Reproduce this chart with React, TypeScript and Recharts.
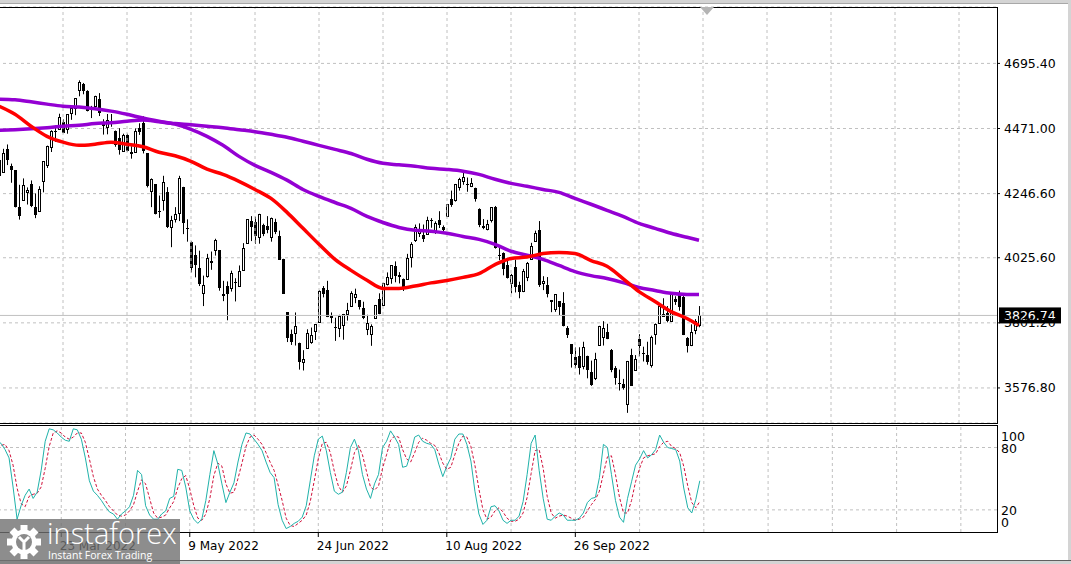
import React from 'react';
import { ComposedChart, Bar, Line, XAxis, YAxis, CartesianGrid, ReferenceLine } from 'recharts';

// trading days shown on the chart (US500, daily)
const tradingDays: [string, number[]][] = [
  ['Mar', [1, 2, 3, 4, 7, 8, 9, 10, 11, 14, 15, 16, 17, 18, 21, 22, 23, 24, 25, 28, 29, 30, 31]],
  ['Apr', [1, 4, 5, 6, 7, 8, 11, 12, 13, 14, 18, 19, 20, 21, 22, 25, 26, 27, 28, 29]],
  ['May', [2, 3, 4, 5, 6, 9, 10, 11, 12, 13, 16, 17, 18, 19, 20, 23, 24, 25, 26, 27, 31]],
  ['Jun', [1, 2, 3, 6, 7, 8, 9, 10, 13, 14, 15, 16, 17, 21, 22, 23, 24, 27, 28, 29, 30]],
  ['Jul', [1, 5, 6, 7, 8, 11, 12, 13, 14, 15, 18, 19, 20, 21, 22, 25, 26, 27, 28, 29]],
  ['Aug', [1, 2, 3, 4, 5, 8, 9, 10, 11, 12, 15, 16, 17, 18, 19, 22, 23, 24, 25, 26, 29, 30, 31]],
  ['Sep', [1, 2, 6, 7, 8, 9, 12, 13, 14, 15, 16, 19, 20, 21, 22, 23, 26, 27, 28, 29, 30]],
  ['Oct', [3, 4, 5, 6, 7, 10, 11, 12, 13, 14, 17, 18, 19, 20, 21, 24, 25, 26, 27, 28, 31]],
  ['Nov', [1, 2, 3, 4, 7, 8]],
];

// open, high, low, close
const ohlc: number[][] = [
  [4363, 4375, 4279, 4306], [4322, 4401, 4320, 4387], [4401, 4416, 4345, 4364], [4343, 4350, 4284, 4329],
  [4327, 4327, 4199, 4201], [4202, 4277, 4157, 4171], [4223, 4299, 4223, 4278], [4252, 4268, 4209, 4260],
  [4279, 4292, 4200, 4204], [4202, 4247, 4162, 4173], [4188, 4272, 4187, 4262], [4289, 4358, 4251, 4358],
  [4345, 4412, 4335, 4412], [4407, 4465, 4390, 4463], [4462, 4481, 4425, 4461], [4470, 4522, 4469, 4512],
  [4493, 4502, 4455, 4456], [4470, 4521, 4453, 4520], [4523, 4546, 4501, 4543], [4541, 4575, 4517, 4575],
  [4603, 4637, 4582, 4632], [4624, 4628, 4589, 4602], [4599, 4603, 4530, 4530], [4540, 4549, 4507, 4546],
  [4547, 4584, 4535, 4583], [4573, 4593, 4514, 4525], [4495, 4503, 4450, 4481], [4475, 4521, 4451, 4500],
  [4495, 4521, 4477, 4488], [4462, 4464, 4408, 4413], [4437, 4472, 4381, 4397], [4394, 4453, 4392, 4447],
  [4449, 4453, 4392, 4392], [4385, 4410, 4367, 4391], [4390, 4471, 4389, 4463], [4473, 4489, 4449, 4459],
  [4490, 4513, 4385, 4393], [4385, 4386, 4268, 4272], [4255, 4299, 4200, 4296], [4279, 4279, 4175, 4175],
  [4187, 4240, 4163, 4183], [4223, 4308, 4188, 4288], [4253, 4269, 4128, 4132], [4131, 4170, 4062, 4155],
  [4159, 4200, 4147, 4175], [4181, 4308, 4152, 4300], [4270, 4270, 4107, 4147], [4129, 4158, 4081, 4123],
  [4081, 4082, 3975, 3991], [4035, 4068, 3958, 4001], [3990, 4050, 3928, 3936], [3904, 3964, 3859, 3930],
  [3963, 4039, 3957, 4024], [4013, 4047, 3984, 4008], [4052, 4091, 4033, 4088], [4052, 4052, 3912, 3923],
  [3900, 3946, 3876, 3901], [3928, 3944, 3810, 3901], [3920, 3981, 3909, 3974], [3942, 3955, 3875, 3941],
  [3929, 3999, 3926, 3979], [3984, 4076, 3984, 4058], [4077, 4158, 4077, 4158], [4151, 4169, 4083, 4132],
  [4149, 4167, 4074, 4101], [4096, 4177, 4074, 4176], [4138, 4143, 4100, 4109], [4135, 4169, 4110, 4121],
  [4097, 4164, 4081, 4161], [4148, 4160, 4107, 4116], [4102, 4119, 4018, 4018], [4020, 4022, 3901, 3901],
  [3838, 3838, 3735, 3750], [3763, 3778, 3725, 3735], [3765, 3837, 3723, 3790], [3733, 3733, 3640, 3667],
  [3666, 3707, 3637, 3675], [3715, 3779, 3715, 3765], [3734, 3785, 3729, 3760], [3774, 3796, 3742, 3796],
  [3805, 3914, 3805, 3912], [3920, 3928, 3889, 3900], [3913, 3946, 3821, 3821], [3826, 3837, 3800, 3819],
  [3786, 3819, 3739, 3785], [3782, 3829, 3752, 3825], [3793, 3832, 3743, 3831], [3831, 3870, 3809, 3845],
  [3858, 3910, 3858, 3903], [3889, 3919, 3869, 3899], [3880, 3880, 3847, 3855], [3851, 3874, 3814, 3819],
  [3779, 3829, 3759, 3801], [3764, 3796, 3722, 3790], [3818, 3863, 3817, 3863], [3883, 3903, 3831, 3831],
  [3861, 3939, 3860, 3937], [3935, 3975, 3930, 3960], [3955, 3999, 3936, 3999], [3998, 4013, 3941, 3962],
  [3965, 3976, 3937, 3967], [3953, 3954, 3911, 3921], [3951, 4039, 3951, 4024], [4027, 4079, 3992, 4072],
  [4088, 4140, 4080, 4130], [4112, 4144, 4097, 4119], [4104, 4140, 4080, 4091], [4107, 4167, 4107, 4155],
  [4154, 4162, 4129, 4152], [4115, 4151, 4108, 4145], [4156, 4186, 4128, 4140], [4133, 4137, 4112, 4122],
  [4171, 4211, 4169, 4210], [4227, 4257, 4201, 4207], [4225, 4280, 4219, 4280], [4269, 4301, 4257, 4297],
  [4291, 4326, 4277, 4305], [4280, 4302, 4253, 4275], [4274, 4300, 4269, 4284], [4267, 4267, 4219, 4228],
  [4195, 4196, 4131, 4138], [4134, 4159, 4124, 4128], [4126, 4156, 4120, 4141], [4154, 4200, 4147, 4199],
  [4199, 4204, 4057, 4058], [4034, 4062, 4017, 4031], [4042, 4044, 3965, 3986], [4000, 4016, 3954, 3955],
  [3937, 3970, 3903, 3967], [3994, 4019, 3906, 3924], [3930, 3943, 3886, 3908], [3910, 3987, 3907, 3980],
  [3959, 4011, 3945, 4006], [4022, 4077, 4022, 4067], [4084, 4119, 4083, 4110], [4120, 4152, 3925, 3932],
  [3940, 3962, 3914, 3946], [3932, 3959, 3889, 3901], [3880, 3880, 3838, 3873], [3849, 3900, 3839, 3900],
  [3875, 3876, 3827, 3856], [3871, 3907, 3789, 3790], [3782, 3790, 3749, 3758], [3727, 3727, 3647, 3693],
  [3682, 3716, 3645, 3655], [3686, 3717, 3623, 3647], [3651, 3736, 3641, 3719], [3688, 3688, 3610, 3640],
  [3633, 3671, 3584, 3586], [3610, 3698, 3604, 3678], [3726, 3791, 3726, 3791], [3753, 3807, 3723, 3783],
  [3771, 3798, 3745, 3745], [3707, 3711, 3631, 3640], [3645, 3652, 3588, 3612], [3595, 3640, 3568, 3589],
  [3590, 3608, 3571, 3577], [3520, 3670, 3491, 3670], [3690, 3712, 3584, 3583], [3638, 3690, 3638, 3677],
  [3746, 3762, 3686, 3720], [3696, 3719, 3668, 3695], [3689, 3736, 3657, 3666], [3657, 3757, 3647, 3752],
  [3763, 3799, 3726, 3797], [3799, 3862, 3799, 3859], [3825, 3886, 3824, 3831], [3835, 3859, 3803, 3807],
  [3808, 3905, 3808, 3901], [3882, 3893, 3863, 3872], [3901, 3912, 3843, 3856], [3890, 3894, 3759, 3760],
  [3750, 3752, 3699, 3720], [3725, 3796, 3721, 3771], [3775, 3814, 3762, 3807], [3795, 3859, 3786, 3826.74],
];

// moving averages, read every 4 bars
const maIndex = [0, 4, 8, 12, 16, 20, 24, 28, 32, 36, 40, 44, 48, 52, 56, 60, 64, 68, 72, 76, 80, 84, 88,
  92, 96, 100, 104, 108, 112, 116, 120, 124, 128, 132, 136, 140, 144, 148, 152, 156, 160, 164, 168, 172, 175];
const ma50 = [4548, 4520, 4479, 4444, 4424, 4413, 4417, 4424, 4417, 4408, 4389, 4377, 4358, 4331, 4313, 4289,
  4261, 4230, 4182, 4127, 4072, 4020, 3982, 3948, 3920, 3920, 3928, 3939, 3947, 3958, 3971, 4002, 4023, 4028,
  4040, 4044, 4040, 4016, 3996, 3954, 3909, 3875, 3840, 3816, 3792];
const ma100 = [4572, 4570, 4563, 4555, 4548, 4545, 4539, 4531, 4520, 4507, 4496, 4486, 4468, 4444, 4413, 4375,
  4344, 4320, 4293, 4261, 4237, 4216, 4196, 4168, 4147, 4130, 4120, 4117, 4110, 4099, 4089, 4072, 4048, 4034,
  4020, 3999, 3978, 3964, 3954, 3940, 3923, 3913, 3903, 3899, 3899];
const ma200 = [4465, 4467, 4470, 4474, 4479, 4482, 4488, 4491, 4496, 4500, 4494, 4488, 4484, 4479, 4474, 4467,
  4460, 4451, 4441, 4427, 4413, 4399, 4385, 4365, 4351, 4346, 4341, 4334, 4330, 4324, 4313, 4296, 4282, 4272,
  4261, 4251, 4230, 4210, 4189, 4168, 4144, 4127, 4110, 4096, 4086];

// stochastic oscillator
const stochMain = [86, 84, 78, 70, 42, 11, 24, 34, 40, 31, 37, 58, 86, 98, 97, 94, 90, 87, 86, 98, 97, 88, 70, 48,
  38, 34, 29, 23, 18, 16, 11, 16, 19, 23, 34, 58, 54, 24, 15, 11, 11, 16, 19, 31, 33, 59, 58, 42, 19, 11, 7, 11,
  29, 54, 77, 64, 45, 27, 37, 46, 66, 83, 94, 93, 88, 83, 77, 66, 56, 51, 25, 10, 2, 4, 7, 9, 13, 24, 48, 72, 88,
  91, 77, 56, 38, 35, 37, 56, 80, 88, 77, 54, 40, 31, 45, 54, 80, 86, 96, 90, 83, 61, 62, 74, 90, 92, 86, 84, 83,
  78, 64, 52, 62, 70, 88, 93, 93, 83, 67, 38, 16, 6, 10, 23, 24, 19, 10, 7, 10, 10, 14, 28, 54, 84, 92, 58, 31,
  11, 10, 14, 17, 15, 10, 10, 10, 12, 17, 27, 31, 32, 51, 83, 80, 54, 29, 13, 8, 31, 47, 63, 69, 77, 70, 73, 78,
  92, 85, 80, 79, 78, 67, 41, 22, 17, 30, 48];
const stochSignal = [80, 82, 83, 77, 63, 41, 26, 23, 33, 35, 36, 42, 60, 81, 94, 96, 94, 90, 88, 90, 94, 94, 85,
  69, 52, 40, 34, 29, 23, 19, 15, 14, 15, 19, 25, 38, 49, 45, 31, 17, 12, 13, 15, 22, 28, 41, 50, 53, 40, 24, 12,
  10, 16, 31, 53, 65, 62, 45, 36, 37, 50, 65, 81, 90, 92, 88, 83, 75, 66, 58, 44, 29, 12, 5, 4, 7, 10, 15, 28,
  48, 69, 84, 85, 75, 57, 43, 37, 43, 58, 75, 82, 73, 57, 42, 39, 43, 60, 73, 87, 91, 90, 78, 69, 66, 75, 85, 89,
  87, 84, 82, 75, 65, 59, 61, 73, 84, 91, 90, 81, 63, 40, 20, 11, 13, 19, 22, 18, 12, 9, 9, 11, 17, 32, 55, 77,
  78, 60, 33, 17, 12, 14, 15, 14, 12, 10, 11, 13, 19, 25, 30, 38, 55, 71, 72, 54, 32, 17, 17, 29, 47, 60, 70, 72,
  73, 74, 81, 85, 86, 81, 79, 75, 62, 43, 27, 22, 28];

const priceTicks = [3576.8, 3801.2, 4025.6, 4246.6, 4471.0, 4695.4];
const stochTicks = [0, 20, 80, 100];
const labelTicks = [16, 48, 80, 112, 144];
const gridTicks = [16, 32, 48, 64, 80, 96, 112, 128, 144, 160, 176, 192, 208, 224, 240];
const lastPrice = 3826.74;
const SLOTS = 250;

const dates = tradingDays.flatMap(([m, ds]) => ds.map((d) => `${d} ${m} 2022`));

const rows = Array.from({ length: SLOTS }, (_, i) => {
  const bar = ohlc[i];
  const k = maIndex.indexOf(i);
  return {
    idx: i,
    date: dates[i] || '',
    o: bar ? bar[0] : null,
    h: bar ? bar[1] : null,
    l: bar ? bar[2] : null,
    c: bar ? bar[3] : null,
    range: bar ? [bar[2], bar[1]] : null,
    ma50: k >= 0 ? ma50[k] : null,
    ma100: k >= 0 ? ma100[k] : null,
    ma200: k >= 0 ? ma200[k] : null,
    k: i < stochMain.length ? stochMain[i] : null,
    d: i < stochSignal.length ? stochSignal[i] : null,
  };
});

const FONT = '"DejaVu Sans", Tahoma, sans-serif';
const GRID = '#c0c0c0';

const Candle = (props: any) => {
  const { x, y, width, height, payload } = props;
  if (payload.o == null) return null;
  const { o, h, l, c } = payload;
  const span = h - l || 1;
  const py = (v: number) => y + ((h - v) / span) * height;
  const cx = Math.floor(x + width / 2) + 0.5;
  const top = Math.round(py(Math.max(o, c)));
  const bot = Math.round(py(Math.min(o, c)));
  const up = c >= o;
  return (
    <g>
      <line x1={cx} x2={cx} y1={py(h)} y2={py(l)} stroke='#000' strokeWidth={1} />
      {up ? (
        <rect x={cx - 1} y={top + 0.5} width={2} height={Math.max(bot - top, 1)} fill='#fff' stroke='#000' strokeWidth={1} />
      ) : (
        <rect x={cx - 1.5} y={top} width={3} height={Math.max(bot - top, 1)} fill='#000' />
      )}
    </g>
  );
};

const PriceBox = (props: any) => {
  const { viewBox } = props;
  const bx = viewBox.x + viewBox.width + 2;
  return (
    <g>
      <rect x={bx} y={viewBox.y - 8} width={62} height={16} fill='#000' />
      <text x={bx + 5} y={viewBox.y} dy='0.36em' fill='#fff' fontSize={12.5} fontFamily={FONT}>
        {lastPrice.toFixed(2)}
      </text>
    </g>
  );
};

const DateTick = (props: any) => {
  const { x, y, payload } = props;
  return (
    <text x={x - 1.5} y={y} dy={10.5} textAnchor='start' fill='#000' fontSize={12} fontFamily={FONT}>
      {dates[payload.value]}
    </text>
  );
};

// MT4 keeps the 100 and 0 labels inside the window
const StochTick = (props: any) => {
  const { x, y, payload } = props;
  const shift = payload.value === 100 ? 9.3 : payload.value === 0 ? -8 : 0.8;
  return (
    <text x={x} y={y + shift} dy='0.36em' textAnchor='start' fill='#000' fontSize={12.5} fontFamily={FONT}>
      {payload.value}
    </text>
  );
};

const abs = (l: number, t: number, w: number, h: number, extra: React.CSSProperties = {}): React.CSSProperties => ({
  position: 'absolute', left: l, top: t, width: w, height: h, boxSizing: 'border-box', ...extra,
});

export default function App() {
  return (
    <div style={abs(0, 0, 1071, 564, { background: '#fff', overflow: 'hidden', fontFamily: FONT })}>
      {/* price panel */}
      <div style={{ position: 'absolute', left: -3, top: 0 }}>
        <ComposedChart width={1074} height={423} data={rows} margin={{ top: 7, right: 0, bottom: 0, left: 0 }}
          barCategoryGap={0} barGap={0}>
          <CartesianGrid vertical={false} stroke={GRID} strokeDasharray='3 3' />
          <XAxis dataKey='idx' type='category' hide />
          <YAxis orientation='right' width={74} domain={[3456, 4889.8]} ticks={priceTicks} type='number'
            interval={0} allowDataOverflow axisLine={false} tickSize={3} tickMargin={4} tickLine={{ stroke: '#000' }}
            tickFormatter={(v: number) => v.toFixed(2)}
            tick={{ fontSize: 12.5, fill: '#000', fontFamily: FONT }} />
          {gridTicks.map((t) => (
            <ReferenceLine key={t} x={t} stroke={GRID} strokeDasharray='3 3' />
          ))}
          <ReferenceLine y={lastPrice} stroke='#c0c0c0' label={<PriceBox />} />
          <Bar dataKey='range' shape={<Candle />} isAnimationActive={false} />
          <Line dataKey='ma200' stroke='#9400d3' strokeWidth={3.5} dot={false} connectNulls type='monotone' isAnimationActive={false} />
          <Line dataKey='ma100' stroke='#9400d3' strokeWidth={3.5} dot={false} connectNulls type='monotone' isAnimationActive={false} />
          <Line dataKey='ma50' stroke='#ff0000' strokeWidth={3.5} dot={false} connectNulls type='monotone' isAnimationActive={false} />
        </ComposedChart>
      </div>

      {/* stochastic panel */}
      <div style={{ position: 'absolute', left: -3, top: 426 }}>
        <ComposedChart width={1074} height={134} data={rows} margin={{ top: 0, right: 0, bottom: 0, left: 0 }}>
          <XAxis dataKey='idx' type='category' height={28} ticks={labelTicks} interval={0} axisLine={false}
            tickSize={5} tickMargin={2} tickLine={{ stroke: '#000' }} tick={<DateTick />} />
          <YAxis orientation='right' width={74} domain={[-1.3, 100.7]} ticks={stochTicks} type='number'
            interval={0} allowDataOverflow axisLine={false} tickLine={false} tickSize={0} tickMargin={4}
            tick={<StochTick />} />
          <ReferenceLine y={80} stroke={GRID} strokeDasharray='3 3' />
          <ReferenceLine y={20} stroke={GRID} strokeDasharray='3 3' />
          {gridTicks.map((t) => (
            <ReferenceLine key={t} x={t} stroke={GRID} strokeDasharray='3 3' />
          ))}
          <Line dataKey='d' stroke='#d0103a' strokeWidth={1} strokeDasharray='3 2' dot={false} type='linear' isAnimationActive={false} />
          <Line dataKey='k' stroke='#20b2aa' strokeWidth={1} dot={false} type='linear' isAnimationActive={false} />
        </ComposedChart>
      </div>

      {/* panel borders and window frame */}
      <div style={abs(-1, 7, 999, 417, { border: '1px solid #000', pointerEvents: 'none' })} />
      <div style={abs(-1, 425, 999, 108, { border: '1px solid #000', pointerEvents: 'none' })} />
      <div style={abs(0, 0, 1071, 3, { background: '#d4d4d4' })} />
      <div style={abs(0, 3, 1071, 1, { background: '#a8a8a8' })} />
      <div style={abs(1068, 0, 3, 564, { background: '#d4d4d4' })} />
      <div style={abs(0, 560, 1071, 1, { background: '#606060' })} />
      <div style={abs(0, 561, 1071, 3, { background: '#d4d4d4' })} />

      {/* chart shift marker */}
      <svg style={abs(699, 7, 16, 10)} width={16} height={10}>
        <polygon points='1,0 15,0 8,8' fill='#b4b4b4' />
      </svg>

      {/* watermark */}
      <div style={abs(0, 519, 180, 45, { background: 'rgba(112,112,112,0.8)' })}>
        <svg style={abs(6, 4, 36, 38)} width={36} height={38} viewBox='0 0 36 38'>
          <g transform='translate(18,19)'>
            {[0, 45, 90, 135, 180, 225, 270, 315].map((a) => (
              <rect key={a} x={-3.5} y={-17} width={7} height={7} fill='#fff' transform={`rotate(${a})`} />
            ))}
            <circle r={12.5} fill='#fff' />
            <circle r={8} fill='#8a8a8a' />
            <path d='M-5,-5 L0,0 L5,-5 M0,0 L0,9' stroke='#fff' strokeWidth={3} fill='none' />
          </g>
        </svg>
        <div style={{ position: 'absolute', left: 47, top: -4, color: '#fff', fontFamily: '"Open Sans", sans-serif',
          fontWeight: 300, fontSize: 29, lineHeight: '36px', whiteSpace: 'nowrap' }}>
          instaforex
        </div>
        <div style={{ position: 'absolute', left: 48, top: 30, color: '#fff', fontFamily: '"Open Sans", sans-serif',
          fontSize: 10.5, lineHeight: '13px', whiteSpace: 'nowrap' }}>
          Instant Forex Trading
        </div>
      </div>
    </div>
  );
}
